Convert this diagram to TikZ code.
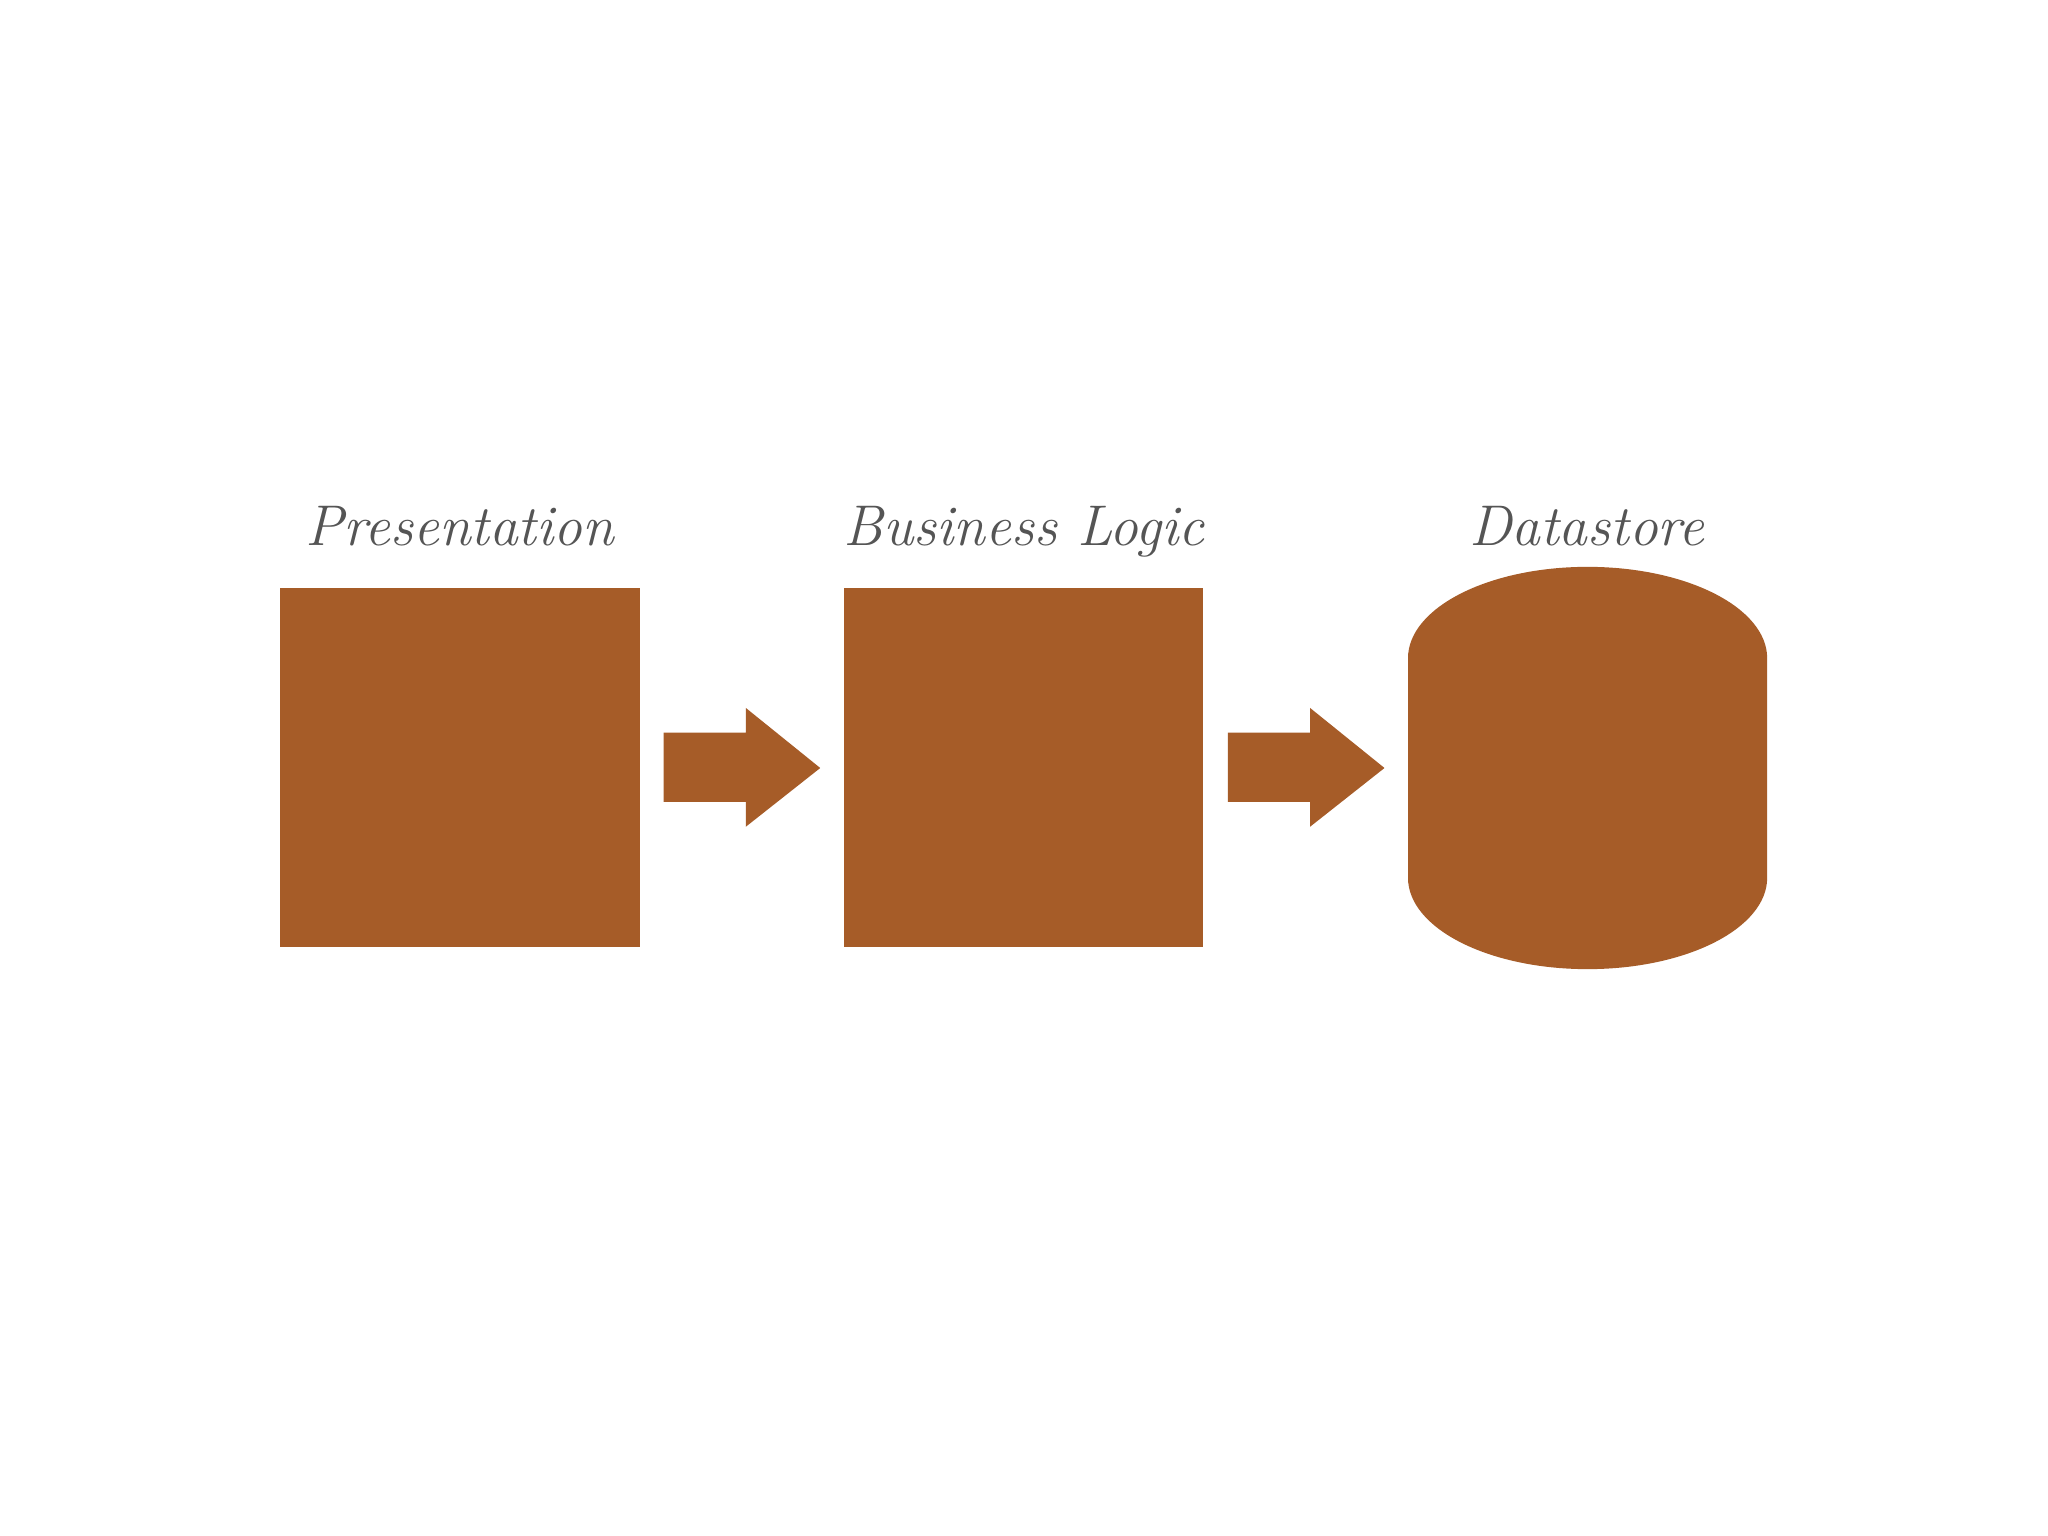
\documentclass[tikz,border=0pt]{standalone}
\usetikzlibrary{shapes.geometric}
\definecolor{rust}{HTML}{A65C28}
\definecolor{lbl}{HTML}{555555}
\begin{document}
\begin{tikzpicture}[x=0.01cm,y=-0.01cm,
  blk/.style={fill=rust,draw=none},
  lab/.style={text=lbl,font=\fontsize{12.5}{15}\selectfont\itshape,anchor=base}]
\useasboundingbox (0,0) rectangle (1568,1176);
\fill[white] (0,0) rectangle (1568,1176);
\fill[blk] (214,450) rectangle (490,725);
\fill[blk] (646,450) rectangle (921,725);
\fill[blk] (1078,504) arc[start angle=180,end angle=0,x radius=137.5,y radius=-70] -- (1353,672) arc[start angle=0,end angle=-180,x radius=137.5,y radius=-70] -- cycle;
\fill[blk] (508,561) -- (571,561) -- (571,542) -- (628,588) -- (571,633) -- (571,614) -- (508,614) -- cycle;
\fill[blk] (940,561) -- (1003,561) -- (1003,542) -- (1060,588) -- (1003,633) -- (1003,614) -- (940,614) -- cycle;
\node[lab] (t1) at (352,418) {Presentation};
\node[lab] (t2) at (784,418) {Business Logic};
\node[lab] (t3) at (1215,418) {Datastore};
\end{tikzpicture}
\end{document}
